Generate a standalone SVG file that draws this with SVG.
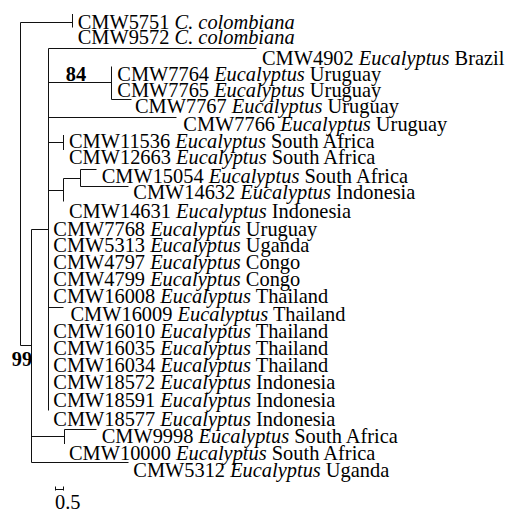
<svg xmlns="http://www.w3.org/2000/svg" width="508" height="512" viewBox="0 0 508 512">
<style>
text{font-family:"Liberation Serif","Times New Roman",serif;font-size:20.4px;fill:#000}
.i{font-style:italic}
.b{font-weight:bold}
.c{fill:none;stroke:#111;stroke-width:1}
</style>
<rect width="508" height="512" fill="#fff"/>
<g id="connectors" class="c">
<path d="M20.5,22.5V345.5M20.5,22.5H72.5M72.5,14V27.5M20.5,345.5H31.5M31.5,229.5V462.5M31.5,229.5H48.5M48.5,48.5V410.5M48.5,48.5H256.5M48.5,82.5H111.5M111.5,66.5V99.5M111.5,99.5H131.5M48.5,117.5H176.5M48.5,142.5H63.5M63.5,135V150M48.5,190.5H63.5M63.5,178.5V201.5M63.5,178.5H80.5M80.5,169.5V186.5M80.5,169.5H96.5M80.5,186.5H128.5M48.5,307.5H63.5M31.5,436.5H64.5M64.5,429.5V444M64.5,429.5H96.5M31.5,462.5H128.5"/>
</g>
<g id="scalebar">
<path class="c" d="M55.5,489.5H63.5M55.5,486.5V490.5M63.5,486.5V490.5"/>
<text x="55" y="508.5">0.5</text>
</g>
<g id="support84"><text class="b" x="65.7" y="81">84</text></g>
<g id="support99"><text class="b" x="11.7" y="366">99</text></g>
<g id="CMW5751"><text x="77.7" y="29">CMW5751 <tspan class="i">C. colombiana</tspan></text></g>
<g id="CMW9572"><text x="77.7" y="44.3">CMW9572 <tspan class="i">C. colombiana</tspan></text></g>
<g id="CMW4902"><text x="262" y="65">CMW4902 <tspan class="i">Eucalyptus</tspan> Brazil</text></g>
<g id="CMW7764"><text x="117.3" y="80.5">CMW7764 <tspan class="i">Eucalyptus</tspan> Uruguay</text></g>
<g id="CMW7765"><text x="117.3" y="96.5">CMW7765 <tspan class="i">Eucalyptus</tspan> Uruguay</text></g>
<g id="CMW7767"><text x="135" y="112.7">CMW7767 <tspan class="i">Eucalyptus</tspan> Uruguay</text></g>
<g id="CMW7766"><text x="183.3" y="131">CMW7766 <tspan class="i">Eucalyptus</tspan> Uruguay</text></g>
<g id="CMW11536"><text x="69" y="147.7">CMW11536 <tspan class="i">Eucalyptus</tspan> South Africa</text></g>
<g id="CMW12663"><text x="69" y="164">CMW12663 <tspan class="i">Eucalyptus</tspan> South Africa</text></g>
<g id="CMW15054"><text x="101.7" y="183.3">CMW15054 <tspan class="i">Eucalyptus</tspan> South Africa</text></g>
<g id="CMW14632"><text x="133.3" y="199.3">CMW14632 <tspan class="i">Eucalyptus</tspan> Indonesia</text></g>
<g id="CMW14631"><text x="69" y="218.3">CMW14631 <tspan class="i">Eucalyptus</tspan> Indonesia</text></g>
<g id="CMW7768"><text x="53.3" y="235.7">CMW7768 <tspan class="i">Eucalyptus</tspan> Uruguay</text></g>
<g id="CMW5313"><text x="53.3" y="252.3">CMW5313 <tspan class="i">Eucalyptus</tspan> Uganda</text></g>
<g id="CMW4797"><text x="53.3" y="269">CMW4797 <tspan class="i">Eucalyptus</tspan> Congo</text></g>
<g id="CMW4799"><text x="53.3" y="285.7">CMW4799 <tspan class="i">Eucalyptus</tspan> Congo</text></g>
<g id="CMW16008"><text x="53.3" y="303.3">CMW16008 <tspan class="i">Eucalyptus</tspan> Thailand</text></g>
<g id="CMW16009"><text x="70.5" y="321">CMW16009 <tspan class="i">Eucalyptus</tspan> Thailand</text></g>
<g id="CMW16010"><text x="53.3" y="337.5">CMW16010 <tspan class="i">Eucalyptus</tspan> Thailand</text></g>
<g id="CMW16035"><text x="53.3" y="354.8">CMW16035 <tspan class="i">Eucalyptus</tspan> Thailand</text></g>
<g id="CMW16034"><text x="53.3" y="372">CMW16034 <tspan class="i">Eucalyptus</tspan> Thailand</text></g>
<g id="CMW18572"><text x="53.3" y="389.3">CMW18572 <tspan class="i">Eucalyptus</tspan> Indonesia</text></g>
<g id="CMW18591"><text x="53.3" y="406.5">CMW18591 <tspan class="i">Eucalyptus</tspan> Indonesia</text></g>
<g id="CMW18577"><text x="53.3" y="426">CMW18577 <tspan class="i">Eucalyptus</tspan> Indonesia</text></g>
<g id="CMW9998"><text x="101.7" y="443.3">CMW9998 <tspan class="i">Eucalyptus</tspan> South Africa</text></g>
<g id="CMW10000"><text x="69" y="460">CMW10000 <tspan class="i">Eucalyptus</tspan> South Africa</text></g>
<g id="CMW5312"><text x="133.3" y="476.7">CMW5312 <tspan class="i">Eucalyptus</tspan> Uganda</text></g>
</svg>
